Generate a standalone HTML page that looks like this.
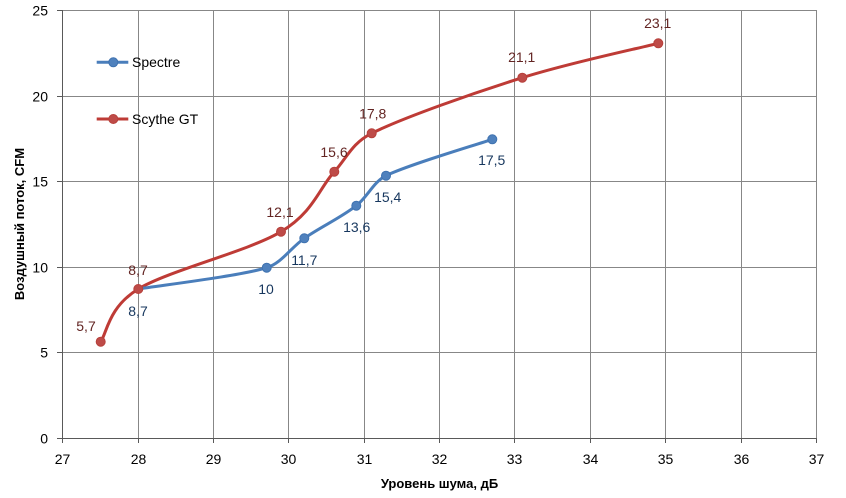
<!DOCTYPE html>
<html>
<head>
<meta charset="utf-8">
<style>
html,body{margin:0;padding:0;background:#fff;}
svg{display:block;}
text{font-family:"Liberation Sans",sans-serif;}
</style>
</head>
<body>
<svg width="846" height="498" viewBox="0 0 846 498" xmlns="http://www.w3.org/2000/svg">
<rect width="846" height="498" fill="#fff"/>
<!-- grid -->
<g stroke="#878787" stroke-width="1">
<line x1="138.5" y1="10" x2="138.5" y2="438"/>
<line x1="213.5" y1="10" x2="213.5" y2="438"/>
<line x1="288.5" y1="10" x2="288.5" y2="438"/>
<line x1="364.5" y1="10" x2="364.5" y2="438"/>
<line x1="439.5" y1="10" x2="439.5" y2="438"/>
<line x1="514.5" y1="10" x2="514.5" y2="438"/>
<line x1="590.5" y1="10" x2="590.5" y2="438"/>
<line x1="665.5" y1="10" x2="665.5" y2="438"/>
<line x1="741.5" y1="10" x2="741.5" y2="438"/>
<line x1="816.5" y1="10" x2="816.5" y2="438"/>
<line x1="62" y1="10.5" x2="817" y2="10.5"/>
<line x1="62" y1="96.5" x2="817" y2="96.5"/>
<line x1="62" y1="181.5" x2="817" y2="181.5"/>
<line x1="62" y1="267.5" x2="817" y2="267.5"/>
<line x1="62" y1="352.5" x2="817" y2="352.5"/>
</g>
<!-- axes -->
<g stroke="#595959" stroke-width="1">
<line x1="62.5" y1="10" x2="62.5" y2="438.5"/>
<line x1="62" y1="438.5" x2="817" y2="438.5"/>
<line x1="57" y1="10.5" x2="62" y2="10.5"/>
<line x1="57" y1="96.5" x2="62" y2="96.5"/>
<line x1="57" y1="181.5" x2="62" y2="181.5"/>
<line x1="57" y1="267.5" x2="62" y2="267.5"/>
<line x1="57" y1="352.5" x2="62" y2="352.5"/>
<line x1="57" y1="438.5" x2="62" y2="438.5"/>
<line x1="62.5" y1="438" x2="62.5" y2="443"/>
<line x1="138.5" y1="438" x2="138.5" y2="443"/>
<line x1="213.5" y1="438" x2="213.5" y2="443"/>
<line x1="288.5" y1="438" x2="288.5" y2="443"/>
<line x1="364.5" y1="438" x2="364.5" y2="443"/>
<line x1="439.5" y1="438" x2="439.5" y2="443"/>
<line x1="514.5" y1="438" x2="514.5" y2="443"/>
<line x1="590.5" y1="438" x2="590.5" y2="443"/>
<line x1="665.5" y1="438" x2="665.5" y2="443"/>
<line x1="741.5" y1="438" x2="741.5" y2="443"/>
<line x1="816.5" y1="438" x2="816.5" y2="443"/>
</g>
<!-- y tick labels -->
<g font-size="14" fill="#000" text-anchor="end">
<text x="48" y="15.5">25</text>
<text x="48" y="101.5">20</text>
<text x="48" y="186.5">15</text>
<text x="48" y="272.5">10</text>
<text x="48" y="357.5">5</text>
<text x="48" y="443.5">0</text>
</g>
<!-- x tick labels -->
<g font-size="14" fill="#000" text-anchor="middle">
<text x="62.5" y="464">27</text>
<text x="138.5" y="464">28</text>
<text x="213.5" y="464">29</text>
<text x="288.5" y="464">30</text>
<text x="364.5" y="464">31</text>
<text x="439.5" y="464">32</text>
<text x="514.5" y="464">33</text>
<text x="590.5" y="464">34</text>
<text x="665.5" y="464">35</text>
<text x="741.5" y="464">36</text>
<text x="816.5" y="464">37</text>
</g>
<!-- axis titles -->
<text x="439.5" y="488" font-size="13" font-weight="bold" text-anchor="middle" fill="#000">Уровень шума, дБ</text>
<text transform="translate(24,224) rotate(-90)" font-size="13" font-weight="bold" text-anchor="middle" fill="#000">Воздушный поток, CFM</text>
<!-- Scythe GT series -->
<path d="M100.7,341.7 C106.97,332.92 108.25,307.33 138.3,289 C168.35,270.67 248.33,251.25 281,231.7 C313.67,212.15 319.18,188.1 334.3,171.7 C346.4,158.6 352,143 371.7,133.3 C403.03,117.63 474.53,92.7 522.3,77.7 C570.07,62.7 635.63,49.03 658.3,43.3" fill="none" stroke="#be3b36" stroke-width="3" stroke-linejoin="round" stroke-linecap="round"/>
<!-- Spectre series -->
<path d="M138.3,289 C159.7,285.45 239.03,276.15 266.7,267.7 C281.5,263.2 291.25,247.33 304.3,238.3 C321.1,226.7 340.2,218.1 356.3,205.7 C367.4,197.2 373.6,181.7 386,175.7 C408.67,164.63 474.58,145.37 492.3,139.3" fill="none" stroke="#4a7ebb" stroke-width="3" stroke-linejoin="round" stroke-linecap="round"/>
<!-- markers -->
<g fill="#be4b48" stroke="#b7403b" stroke-width="1">
<circle cx="100.7" cy="341.7" r="4.5"/>
<circle cx="281" cy="231.7" r="4.5"/>
<circle cx="334.3" cy="171.7" r="4.5"/>
<circle cx="371.7" cy="133.3" r="4.5"/>
<circle cx="522.3" cy="77.7" r="4.5"/>
<circle cx="658.3" cy="43.3" r="4.5"/>
</g>
<g fill="#4f81bd" stroke="#3f72b0" stroke-width="1">
<circle cx="266.7" cy="267.7" r="4.5"/>
<circle cx="304.3" cy="238.3" r="4.5"/>
<circle cx="356.3" cy="205.7" r="4.5"/>
<circle cx="386" cy="175.7" r="4.5"/>
<circle cx="492.3" cy="139.3" r="4.5"/>
</g>
<circle cx="138.3" cy="289" r="4.5" fill="#be4b48" stroke="#b7403b" stroke-width="1"/>
<!-- data labels red -->
<g font-size="14" fill="#632523" text-anchor="middle">
<text x="86" y="331">5,7</text>
<text x="138" y="275">8,7</text>
<text x="280" y="217">12,1</text>
<text x="334" y="157">15,6</text>
<text x="372.7" y="118.5">17,8</text>
<text x="521.7" y="62">21,1</text>
<text x="657.7" y="28">23,1</text>
</g>
<!-- data labels blue -->
<g font-size="14" fill="#17375e" text-anchor="middle">
<text x="138" y="316">8,7</text>
<text x="266" y="294">10</text>
<text x="304.3" y="265">11,7</text>
<text x="356.7" y="232">13,6</text>
<text x="387.7" y="202">15,4</text>
<text x="491.7" y="165">17,5</text>
</g>
<!-- legend -->
<line x1="96.7" y1="62.3" x2="128.3" y2="62.3" stroke="#4a7ebb" stroke-width="3"/>
<circle cx="113.3" cy="62.3" r="4.5" fill="#4f81bd" stroke="#3f72b0" stroke-width="1"/>
<text x="132" y="67" font-size="14" fill="#000">Spectre</text>
<line x1="96.7" y1="119" x2="128.3" y2="119" stroke="#be3b36" stroke-width="3"/>
<circle cx="113.3" cy="119" r="4.5" fill="#be4b48" stroke="#b7403b" stroke-width="1"/>
<text x="132" y="124" font-size="14" fill="#000">Scythe GT</text>
</svg>
</body>
</html>
